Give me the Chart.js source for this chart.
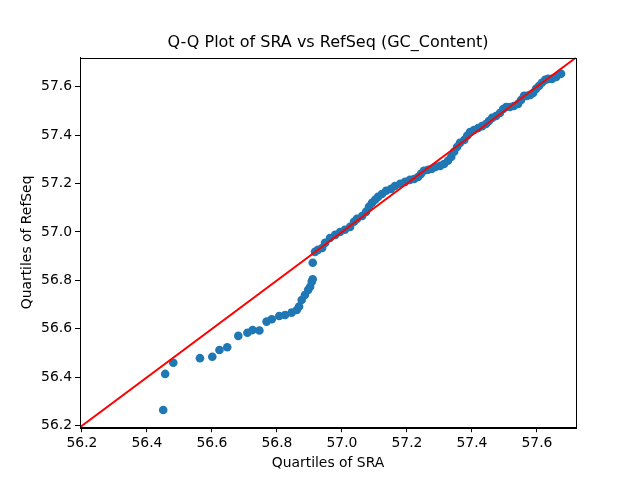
<!DOCTYPE html>
<html>
<head>
<meta charset="utf-8">
<script src="https://cdn.jsdelivr.net/npm/chart.js@4/dist/chart.umd.min.js"></script>
<style>
  body { margin: 0; background: #fff; }
</style>
</head>
<body>
<canvas id="qqChart" width="640" height="480"></canvas>
<script>
// Quantiles of SRA (x) / RefSeq (y) GC content
const sraQuantiles = [
  56.450, 56.456, 56.481, 56.563, 56.601, 56.623, 56.647, 56.681, 56.709, 56.725,
  56.746, 56.768, 56.784, 56.807, 56.825, 56.845, 56.861, 56.868, 56.876, 56.886,
  56.896, 56.902, 56.907, 56.910, 56.910, 56.917, 56.926, 56.939, 56.948, 56.963,
  56.979, 56.994, 57.009, 57.025, 57.037, 57.046, 57.062, 57.074, 57.083, 57.092,
  57.102, 57.111, 57.123, 57.136, 57.151, 57.163, 57.179, 57.194, 57.209, 57.222,
  57.234, 57.243, 57.252, 57.265, 57.277, 57.289, 57.302, 57.314, 57.326, 57.336,
  57.345, 57.354, 57.363, 57.376, 57.385, 57.394, 57.406, 57.419, 57.431, 57.443,
  57.452, 57.462, 57.474, 57.486, 57.496, 57.505, 57.517, 57.529, 57.542, 57.551,
  57.560, 57.569, 57.579, 57.588, 57.597, 57.606, 57.615, 57.625, 57.634, 57.646,
  57.659, 57.674
];
const refseqQuantiles = [
  56.265, 56.414, 56.460, 56.479, 56.485, 56.513, 56.524, 56.571, 56.584, 56.595,
  56.593, 56.630, 56.640, 56.653, 56.657, 56.667, 56.678, 56.692, 56.719, 56.740,
  56.761, 56.774, 56.795, 56.805, 56.873, 56.918, 56.926, 56.934, 56.955, 56.975,
  56.988, 57.000, 57.009, 57.021, 57.042, 57.054, 57.066, 57.083, 57.104, 57.120,
  57.133, 57.145, 57.157, 57.170, 57.178, 57.190, 57.199, 57.207, 57.215, 57.219,
  57.227, 57.240, 57.253, 57.257, 57.261, 57.269, 57.273, 57.281, 57.294, 57.310,
  57.331, 57.351, 57.368, 57.380, 57.397, 57.413, 57.421, 57.429, 57.437, 57.446,
  57.458, 57.471, 57.479, 57.491, 57.508, 57.516, 57.516, 57.520, 57.529, 57.545,
  57.562, 57.562, 57.566, 57.574, 57.591, 57.603, 57.616, 57.628, 57.632, 57.632,
  57.640, 57.653
];
// y = x reference line ends
const lineEnds = [56.194, 57.720];
const tickValues = [56.2, 56.4, 56.6, 56.8, 57.0, 57.2, 57.4, 57.6];
const axisMin = 56.194;
const axisMax = 57.720;

const font = 'DejaVu Sans';

// 枠線 (top/right included)
const frame = {
  id: 'frame',
  afterDatasetsDraw(chart) {
    const { ctx, chartArea: a } = chart;
    ctx.save();
    ctx.strokeStyle = '#000';
    ctx.lineWidth = 1;
    ctx.strokeRect(Math.round(a.left) + 0.5, Math.round(a.top) + 0.5,
      Math.round(a.right - a.left), Math.round(a.bottom - a.top));
    ctx.restore();
  }
};

const fixTicks = scale => { scale.ticks = tickValues.map(v => ({ value: v })); };

new Chart(document.getElementById('qqChart'), {
  type: 'scatter',
  data: {
    datasets: [
      {
        type: 'line',
        data: lineEnds.map(v => ({ x: v, y: v })),
        borderColor: '#ff0000',
        borderWidth: 2,
        pointRadius: 0,
        fill: false,
        order: 0
      },
      {
        data: sraQuantiles.map((x, i) => ({ x: x, y: refseqQuantiles[i] })),
        backgroundColor: '#1f77b4',
        borderWidth: 0,
        pointRadius: 4.3,
        order: 1
      }
    ]
  },
  options: {
    responsive: false,
    animation: false,
    layout: { padding: { left: 0, top: 0, bottom: 0, right: 64 } },
    plugins: {
      legend: { display: false },
      tooltip: { enabled: false },
      title: {
        display: true,
        fullSize: false,
        text: 'Q-Q Plot of SRA vs RefSeq (GC_Content)',
        color: '#000',
        font: { family: font, size: 16, weight: 'normal' },
        padding: { top: 33, bottom: 5.4 }
      }
    },
    scales: {
      x: {
        type: 'linear',
        min: axisMin,
        max: axisMax,
        afterBuildTicks: fixTicks,
        afterFit: s => { s.height = 52.8; },
        grid: { drawOnChartArea: false, drawTicks: true, tickLength: 5, tickColor: '#000' },
        border: { display: true, color: '#000' },
        ticks: { color: '#000', font: { family: font, size: 13.9 }, padding: 3, maxRotation: 0,
          callback: v => v.toFixed(1) },
        title: { display: true, text: 'Quartiles of SRA', color: '#000',
          font: { family: font, size: 13.9 }, padding: { top: 0, bottom: 8.6 } }
      },
      y: {
        type: 'linear',
        min: axisMin,
        max: axisMax,
        afterBuildTicks: fixTicks,
        afterFit: s => { s.width = 80; },
        grid: { drawOnChartArea: false, drawTicks: true, tickLength: 5, tickColor: '#000' },
        border: { display: true, color: '#000' },
        ticks: { color: '#000', font: { family: font, size: 13.9 }, padding: 3,
          callback: v => v.toFixed(1) },
        title: { display: true, text: 'Quartiles of RefSeq', color: '#000',
          font: { family: font, size: 13.9 }, padding: { top: 18.6, bottom: 0 } }
      }
    }
  },
  plugins: [frame]
});
</script>
</body>
</html>
